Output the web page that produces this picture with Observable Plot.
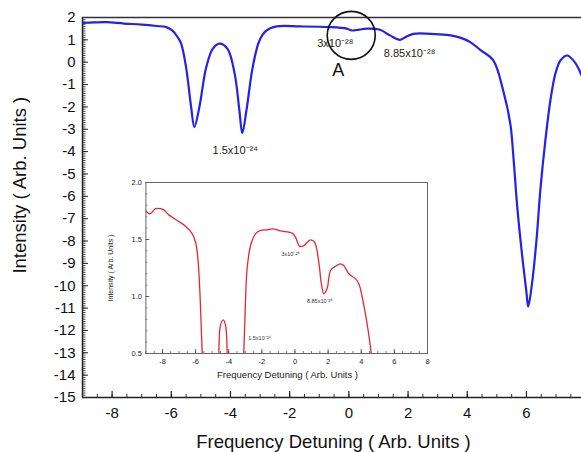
<!DOCTYPE html>
<html><head><meta charset="utf-8">
<script src="https://cdn.jsdelivr.net/npm/d3@7"></script>
<script src="https://cdn.jsdelivr.net/npm/@observablehq/plot@0.6"></script>
<style>
body{margin:0;background:#fff}
#wrap{position:relative;width:581px;height:452px;overflow:hidden;background:#fff}
#inset{position:absolute;left:100px;top:175px}
</style>
</head><body>
<div id="wrap"><div id="main"></div><div id="inset"></div></div>
<script>
// ---------- main chart data ----------
const mainX = [-9.0,-8.6,-8.2,-7.6,-7.0,-6.5,-6.17,-5.97,-5.8,-5.67,-5.5,-5.33,-5.22,-5.05,-4.82,-4.6,-4.37,-4.1,-3.86,-3.7,-3.6,-3.46,-3.25,-3.02,-2.78,-2.44,-1.66,-0.64,-0.07,0.1,0.35,0.6,1.05,1.39,1.73,1.95,2.18,2.75,3.3,3.76,4.1,4.44,4.88,5.22,5.46,5.56,5.69,5.86,6.0,6.06,6.19,6.34,6.47,6.64,6.81,6.98,7.15,7.38,7.66,7.86];
const mainY = [1.76,1.78,1.79,1.73,1.68,1.62,1.57,1.42,1.15,0.84,-0.23,-2.0,-2.9,-2.0,-0.23,0.6,0.83,0.6,-0.5,-2.15,-3.17,-2.15,-0.23,0.97,1.42,1.6,1.6,1.57,1.5,1.42,1.46,1.5,1.45,1.2,1.0,1.15,1.27,1.27,1.22,1.1,0.9,0.55,0.08,-1.3,-2.8,-4.25,-6.48,-8.71,-10.3,-10.93,-9.88,-7.95,-5.72,-3.49,-1.7,-0.5,0.08,0.3,-0.05,-0.59];
const xTicksMain = [-8,-6,-4,-2,0,2,4,6];
const yTicksMain = d3.range(-15, 3, 1);
const xMinorMain = d3.range(-9, 8.01, 0.5);
const yMinorMain = d3.range(-15, 2.001, 0.1);
const mainNoteText = ["1.5x10⁻²⁴", "3x10⁻²⁸", "8.85x10⁻²⁸"];
const mainNoteX = [-3.84, -0.46, 2.05];
const mainNoteY = [-3.94, 0.84, 0.39];
const markerLabel = ["A"];
const markerLabelX = [-0.36], markerLabelY = [-0.37];
const circleX = [0.08], circleY = [1.2];
const mainXLabel = "Frequency Detuning ( Arb. Units )";
const mainYLabel = "Intensity ( Arb. Units )";

// ---------- inset data ----------
const insetX = [-9.0,-8.76,-8.42,-8.12,-7.92,-7.62,-7.11,-6.61,-6.2,-6.0,-5.86,-5.74,-5.6,-5.45,-4.75,-4.6,-4.5,-4.33,-4.19,-4.09,-4.0,-3.2,-3.09,-2.99,-2.89,-2.68,-2.38,-2.08,-1.68,-1.34,-0.87,-0.17,0.03,0.29,0.54,0.94,1.18,1.44,1.58,1.74,1.94,2.15,2.45,2.75,2.95,3.25,3.66,3.86,4.16,4.4,4.6,4.7];
const insetY = [1.75,1.725,1.77,1.77,1.76,1.716,1.667,1.617,1.55,1.476,1.33,1.04,0.5,0.0,0.0,0.5,0.746,0.795,0.746,0.5,0.0,0.0,0.5,0.95,1.243,1.447,1.55,1.58,1.585,1.594,1.575,1.556,1.52,1.44,1.447,1.497,1.476,1.30,1.125,1.024,1.07,1.228,1.266,1.286,1.27,1.2,1.155,1.11,0.92,0.717,0.5,0.3];
const xTicksInset = [-8,-6,-4,-2,0,2,4,6,8];
const yTicksInset = [0.5,1.0,1.5,2.0];
const xMinorInset = d3.range(-9, 8.01, 0.5);
const yMinorInset = d3.range(0.5, 2.001, 0.1);
const insetNoteText = ["3x10⁻²⁸", "8.85x10⁻²⁸", "1.5x10⁻²⁴"];
const insetNoteX = [-0.27, 1.5, -2.14];
const insetNoteY = [1.37, 0.96, 0.634];

const FONT = "'Liberation Sans', Arial, Helvetica, sans-serif";

// ---------- main plot ----------
const W = 581, H = 452, mL = 82, mT = 17, mB = 55, mR = 0;
const pW = W - mL - mR, pH = H - mT - mB;
const mainData = mainX.map((x, i) => ({x, y: mainY[i]}));
const mainNotes = mainNoteText.map((t, i) => ({t, x: mainNoteX[i], y: mainNoteY[i]}));

const main = Plot.plot({
  width: W, height: H,
  marginLeft: mL, marginTop: mT, marginBottom: mB, marginRight: mR,
  style: {fontFamily: FONT, background: "white", color: "#111"},
  x: {domain: [-9, 7.86]},
  y: {domain: [-15, 2]},
  marks: [
    Plot.tickY(yMinorMain, {y: d => d, insetRight: pW - 3.5, stroke: "#333", strokeWidth: 0.9}),
    Plot.tickY(yTicksMain, {y: d => d, insetRight: pW - 6, stroke: "#222", strokeWidth: 1}),
    Plot.tickX(xMinorMain, {x: d => d, insetTop: pH - 3, stroke: "#333", strokeWidth: 1}),
    Plot.tickX(xTicksMain, {x: d => d, insetTop: pH - 6, stroke: "#222", strokeWidth: 1.2}),
    Plot.ruleX([-9], {stroke: "#222", strokeWidth: 1.5}),
    Plot.ruleY([-15], {stroke: "#222", strokeWidth: 1.5}),
    Plot.ruleY([2], {stroke: "#333", strokeWidth: 1.5}),
    Plot.axisY({ticks: yTicksMain, tickSize: 0, tickPadding: 7, fontSize: 15, tickFormat: d => String(d), label: null}),
    Plot.axisX({ticks: xTicksMain, tickSize: 0, tickPadding: 10, fontSize: 15, tickFormat: d => String(d), label: null}),
    Plot.line(mainData, {x: "x", y: "y", stroke: "#2222ea", strokeWidth: 2.2, curve: "catmull-rom", clip: true}),
    Plot.text(mainNotes, {x: "x", y: "y", text: "t", fontSize: 11, fill: "#222"}),
    Plot.text(markerLabel, {x: markerLabelX, y: markerLabelY, text: d => d, fontSize: 18, fill: "#111"}),
    Plot.dot(circleX, {x: circleX, y: circleY, r: 24, stroke: "#111", strokeWidth: 1.6, fill: "none"}),
    Plot.text([mainXLabel], {x: [-0.52], y: [-15], dy: 45, text: d => d, fontSize: 18.5, fill: "#111"}),
    Plot.text([mainYLabel], {x: [-9], y: [-5.5], dx: -62, rotate: -90, text: d => d, fontSize: 18.5, fill: "#111"})
  ]
});
document.getElementById("main").append(main);

// ---------- inset plot ----------
const iW = 335, iH = 210, iL = 45.4, iR = 8, iT = 7, iB = 32;
const ipW = iW - iL - iR, ipH = iH - iT - iB;
const insetData = insetX.map((x, i) => ({x, y: insetY[i]}));
const insetNotes = insetNoteText.map((t, i) => ({t, x: insetNoteX[i], y: insetNoteY[i]}));

const inset = Plot.plot({
  width: iW, height: iH,
  marginLeft: iL, marginRight: iR, marginTop: iT, marginBottom: iB,
  style: {fontFamily: FONT, background: "transparent", color: "#222"},
  x: {domain: [-9, 8]},
  y: {domain: [0.5, 2.0]},
  marks: [
    Plot.frame({fill: "white", stroke: "none"}),
    Plot.line(insetData, {x: "x", y: "y", stroke: "#e8262b", strokeWidth: 1.3, curve: "catmull-rom", clip: true}),
    Plot.tickX(xMinorInset, {x: d => d, insetTop: ipH - 2, stroke: "#555", strokeWidth: 0.8}),
    Plot.tickX(xTicksInset, {x: d => d, insetTop: ipH - 4, stroke: "#444", strokeWidth: 0.8}),
    Plot.tickY(yMinorInset, {y: d => d, insetRight: ipW - 2, stroke: "#555", strokeWidth: 0.6}),
    Plot.tickY(yTicksInset, {y: d => d, insetRight: ipW - 4, stroke: "#444", strokeWidth: 0.8}),
    Plot.frame({stroke: "#666", strokeWidth: 1}),
    Plot.axisY({ticks: yTicksInset, tickSize: 0, tickPadding: 4, fontSize: 7.5, tickFormat: d3.format(".1f"), label: null}),
    Plot.axisX({ticks: xTicksInset, tickSize: 0, tickPadding: 5, fontSize: 7.5, tickFormat: d => String(d), label: null}),
    Plot.text(insetNotes, {x: "x", y: "y", text: "t", fontSize: 5.5, fill: "#333"}),
    Plot.text([mainXLabel], {x: [-0.45], y: [0.5], dy: 21, text: d => d, fontSize: 9.5, fill: "#222"}),
    Plot.text([mainYLabel], {x: [-9], y: [1.25], dx: -35, rotate: -90, text: d => d, fontSize: 7, fill: "#222"})
  ]
});
document.getElementById("inset").append(inset);
</script>
</body></html>
